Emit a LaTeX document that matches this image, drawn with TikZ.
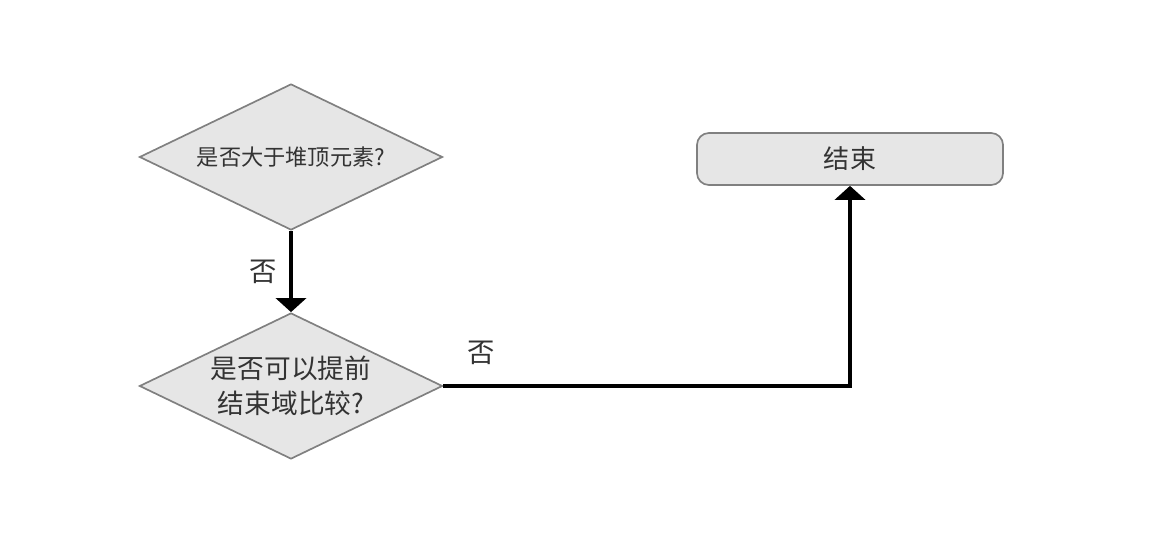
\documentclass[tikz,border=0pt]{standalone}
\usepackage{fontspec}
\setmainfont{Noto Sans CJK SC}
\usetikzlibrary{arrows.meta, shapes.geometric, positioning}
\definecolor{boxfill}{HTML}{E6E6E6}
\definecolor{boxline}{HTML}{808080}
\definecolor{txt}{HTML}{333333}
\tikzset{
    decision/.style={diamond, shape aspect=2.07, draw=boxline, fill=boxfill, text=txt, line width=1.2pt,
        minimum width=7.575cm, minimum height=3.65cm, inner sep=0pt, align=center},
    terminal/.style={rectangle, rounded corners=0.3cm, draw=boxline, fill=boxfill, text=txt,
        line width=1.2pt, minimum width=7.65cm, minimum height=1.3cm, inner sep=0pt},
    flow/.style={line width=2.8pt, -{Triangle[width=0.75cm, length=0.35cm]}},
    answer/.style={text=txt, font=\fontsize{19.5}{23}\selectfont}
}

\begin{document}
\begin{tikzpicture}[x=0.025cm, y=0.025cm]
            \useasboundingbox (0,0) rectangle (1152,548);
            \node[decision, font=\fontsize{15.8}{19}\selectfont] (cmp) at (291,391) {是否大于堆顶元素?};
            \node[decision, font=\fontsize{19}{25}\selectfont] (early) at (291,162) {是否可以提前\\结束域比较?};
            \node[terminal, font=\fontsize{18.5}{22}\selectfont] (end) at (850,389) {结束};
            \coordinate (turn) at (850,162);
            \draw[flow] (cmp.south) -- (early.north);
            \draw[flow] (early.east) -- (turn) -- (end.south);
            \node[answer] (no1) at (263,276) {否};
            \node[answer] (no2) at (481,195) {否};
        \end{tikzpicture}
\end{document}
